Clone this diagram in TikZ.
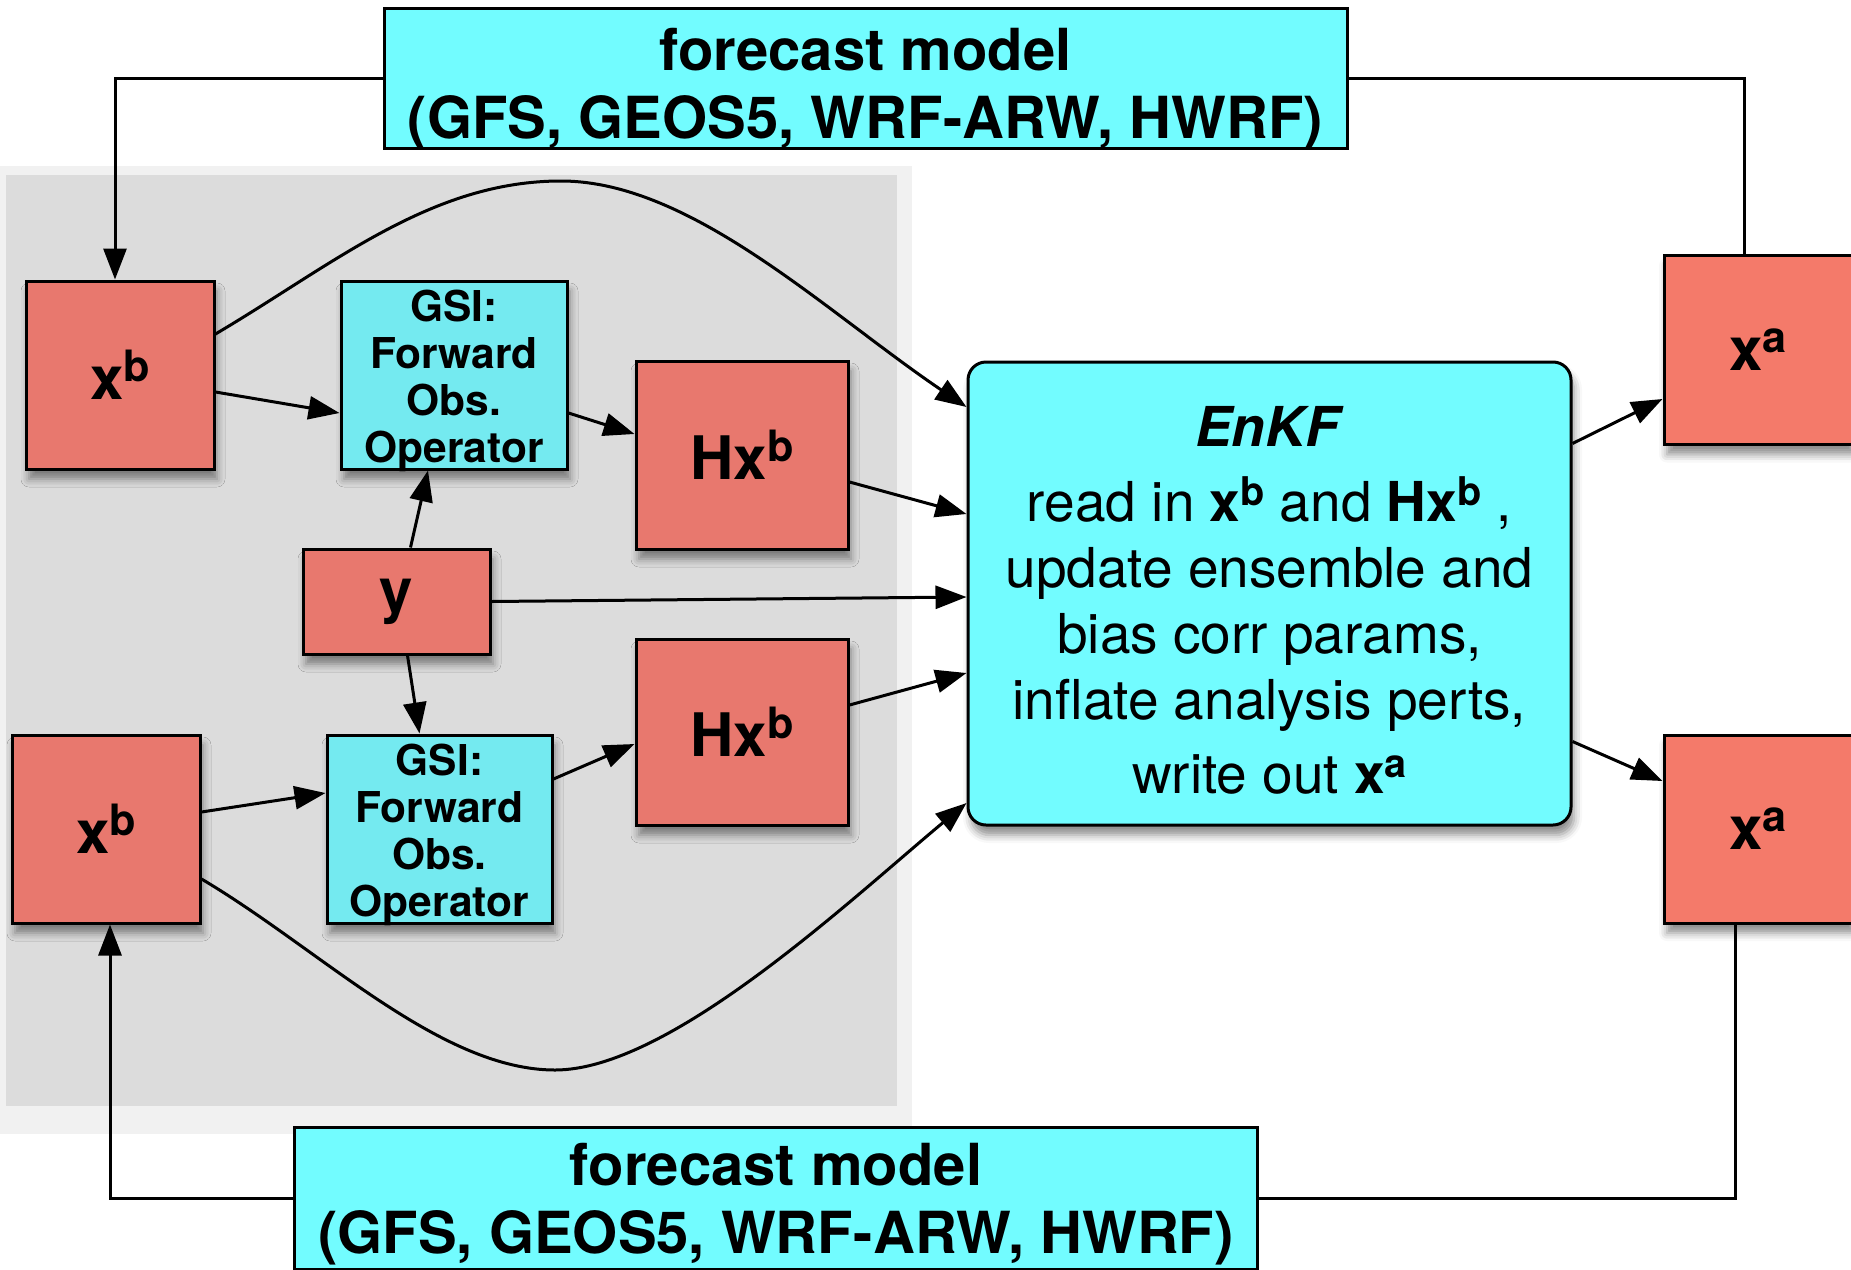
\documentclass[tikz,border=0pt]{standalone}
\usepackage{fontspec}
\usepackage{graphicx}
\setmainfont{TeX Gyre Heros}
\usetikzlibrary{arrows.meta,shadows.blur}
\definecolor{boxred}{RGB}{232,120,110}
\definecolor{outred}{RGB}{244,122,106}
\definecolor{gsicyan}{RGB}{116,234,240}
\definecolor{modelcyan}{RGB}{114,252,255}
\definecolor{bggray}{RGB}{220,220,220}
\definecolor{bgedge}{RGB}{241,241,241}
\newcommand{\sups}[1]{\raisebox{0.3em}{\scalebox{0.72}{#1}}}

\begin{document}
\begin{tikzpicture}[x=1pt,y=-1pt,
    boxshadow/.style={blur shadow={shadow xshift=3pt,shadow yshift=-10pt,shadow blur radius=8pt,shadow opacity=45}},
    statebox/.style={draw,line width=3pt,fill=boxred,minimum width=188pt,minimum height=188pt,inner sep=0pt,font=\fontsize{60}{70}\selectfont\bfseries,boxshadow},
    outbox/.style={statebox,fill=outred},
    gsibox/.style={draw,line width=3pt,fill=gsicyan,minimum width=226pt,minimum height=188pt,inner sep=0pt,boxshadow},
    gsitext/.style={inner sep=0pt,align=center,font=\fontsize{42.5}{47}\selectfont\bfseries,yshift=-6pt},
    modelbox/.style={draw,line width=3pt,fill=modelcyan,minimum width=963pt,minimum height=140pt,inner sep=0pt},
    modeltext/.style={inner sep=0pt,align=center,font=\fontsize{58}{68}\selectfont\bfseries},
    arr/.style={line width=3pt,-{Triangle[length=31pt,width=23pt]}},
    link/.style={line width=3pt}]
    \useasboundingbox (0,0) rectangle (1851,1269);
    \fill[bgedge] (0,166) rectangle (912,1134);
    \fill[bggray] (6,175) rectangle (897,1106);

    \node[modelbox,label={[modeltext,yshift=-11pt]center:{forecast model\\(GFS, GEOS5, WRF-ARW, HWRF)}}] (modelTop) at (865.5,78.5) {};
    \node[modelbox,minimum height=142pt,label={[modeltext,yshift=-6pt]center:{forecast model\\(GFS, GEOS5, WRF-ARW, HWRF)}}] (modelBot) at (776,1198) {};

    \node[statebox] (xbA) at (120,375) {x\sups{b}};
    \node[statebox] (xbB) at (106,829) {x\sups{b}};
    \node[gsibox,label={[gsitext]center:{GSI:\\Forward\\Obs.\\Operator}}] (gsiA) at (454,375) {};
    \node[gsibox,minimum width=225pt,label={[gsitext]center:{GSI:\\Forward\\Obs.\\Operator}}] (gsiB) at (439.5,829) {};
    \node[statebox,minimum width=212pt] (hxA) at (742,455) {Hx\sups{b}};
    \node[statebox,minimum width=212pt,minimum height=186pt] (hxB) at (742,732) {Hx\sups{b}};
    \node[statebox,minimum width=187pt,minimum height=105pt] (yobs) at (396.5,601.5) {y};
    \node[draw,line width=3pt,fill=modelcyan,rounded corners=18pt,minimum width=603pt,minimum height=463pt,boxshadow,
          label={[inner sep=0pt,align=center,font=\fontsize{55}{66}\selectfont,yshift=-7pt]center:{\textbf{\textit{EnKF}}\\[9pt]read in \textbf{x\sups{b}} and \textbf{Hx\sups{b}} ,\\update ensemble and\\bias corr params,\\inflate analysis perts,\\[8pt]write out \textbf{x\sups{a}}}}]
          (enkf) at (1269.5,593.5) {};
    \node[outbox,minimum height=189pt] (xaA) at (1758,350) {x\sups{a}};
    \node[outbox] (xaB) at (1758,829) {x\sups{a}};

    \draw[arr] (modelTop.west) -| ([xshift=-5pt]xbA.north);
    \draw[link] (modelTop.east) -| ([xshift=-14pt]xaA.north);
    \draw[link] ([xshift=-23pt]xaB.south) |- (modelBot.east);
    \draw[arr] (modelBot.west) -| ([xshift=4pt]xbB.south);

    \draw[arr] ([yshift=-17pt]xbA.east) -- ([yshift=-38pt]gsiA.west);
    \draw[arr] ([yshift=-38pt]gsiA.east) -- ([yshift=21pt]hxA.west);
    \draw[arr] ([yshift=-27pt]hxA.east) -- ([yshift=79.5pt]enkf.west);
    \draw[arr] (yobs.east) -- ([yshift=-3.5pt]enkf.west);
    \draw[arr] ([xshift=14pt]yobs.north) -- ([xshift=-26pt]gsiA.south);
    \draw[arr] ([xshift=11pt]yobs.south) -- ([xshift=-20pt]gsiB.north);
    \draw[arr] ([yshift=17pt]xbB.east) -- ([yshift=36pt]gsiB.west);
    \draw[arr] ([yshift=50pt]gsiB.east) -- ([yshift=-12pt]hxB.west);
    \draw[arr] ([yshift=27pt]hxB.east) -- ([yshift=-79.5pt]enkf.west);
    \draw[arr] ([yshift=150pt]enkf.east) -- ([yshift=-49pt]xaA.west);
    \draw[arr] ([yshift=-148pt]enkf.east) -- ([yshift=48pt]xaB.west);

    \draw[arr] ([yshift=41pt]xbA.east) .. controls (334,264) and (431,181) .. (561,181)
        .. controls (691,181) and (826,312) .. ([yshift=186.5pt]enkf.west);
    \draw[arr] ([yshift=-50pt]xbB.east) .. controls (320,949) and (440,1070) .. (555,1070)
        .. controls (670,1070) and (850,900) .. ([yshift=-209.5pt]enkf.west);
\end{tikzpicture}
\end{document}
